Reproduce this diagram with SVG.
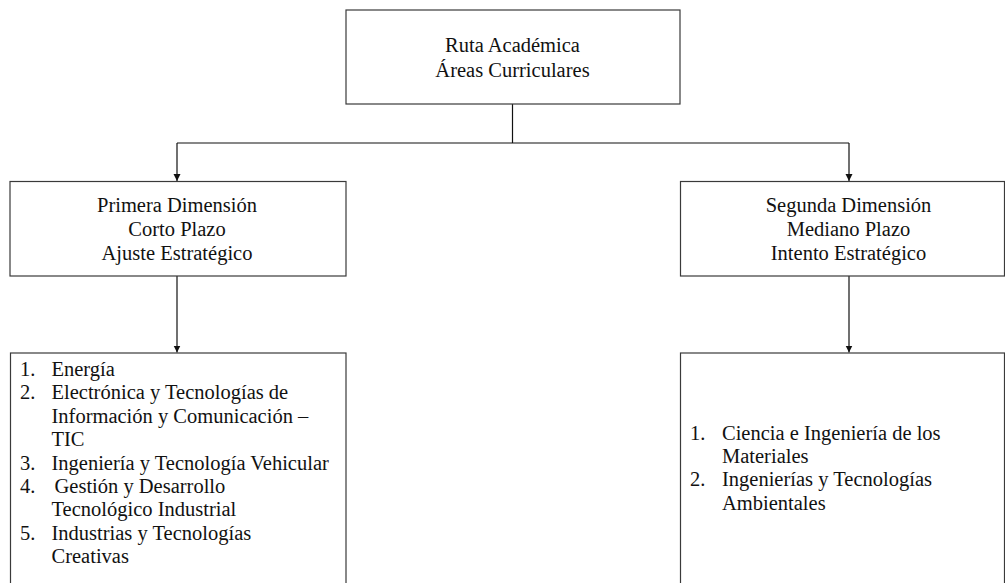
<svg xmlns="http://www.w3.org/2000/svg" width="1005" height="583" viewBox="0 0 1005 583">
<style>
.box{fill:#fff;stroke:#3a3a3a;stroke-width:1.2}
.t{font-family:"Liberation Serif","Times New Roman",serif;font-size:20.5px;fill:#111}
.c{text-anchor:middle}
.ln{fill:none;stroke:#111;stroke-width:1.2}
</style>
<defs>
<marker id="ah" markerWidth="8" markerHeight="8" refX="7" refY="4" orient="auto" markerUnits="userSpaceOnUse">
<path d="M0,0.5 L7,4 L0,7.5 Z" fill="#111"/>
</marker>
</defs>
<rect width="1005" height="583" fill="#fff"/>
<g id="connectors">
<path class="ln" d="M512.5,104 V143"/>
<path class="ln" d="M177,143 H849"/>
<path class="ln" d="M177,143 V181" marker-end="url(#ah)"/>
<path class="ln" d="M849,143 V181" marker-end="url(#ah)"/>
<path class="ln" d="M177,276 V352.5" marker-end="url(#ah)"/>
<path class="ln" d="M849,276 V352.5" marker-end="url(#ah)"/>
</g>
<g id="root">
<rect class="box" x="346" y="10" width="334" height="94"/>
<text class="t c" x="512.5" y="52">Ruta Académica</text>
<text class="t c" x="512.5" y="77">Áreas Curriculares</text>
</g>
<g id="dim1">
<rect class="box" x="10" y="181.5" width="336" height="94.5"/>
<text class="t c" x="177" y="212">Primera Dimensión</text>
<text class="t c" x="177" y="236">Corto Plazo</text>
<text class="t c" x="177" y="260">Ajuste Estratégico</text>
</g>
<g id="dim2">
<rect class="box" x="680.5" y="181.5" width="324" height="94.5"/>
<text class="t c" x="848.5" y="212">Segunda Dimensión</text>
<text class="t c" x="848.5" y="236">Mediano Plazo</text>
<text class="t c" x="848.5" y="260">Intento Estratégico</text>
</g>
<g id="list1">
<rect class="box" x="10.5" y="353" width="335.5" height="240"/>
<text class="t" x="20" y="376">1.</text><text class="t" x="51.5" y="376">Energía</text>
<text class="t" x="20" y="398.5">2.</text><text class="t" x="51.5" y="398.5">Electrónica y Tecnologías de</text>
<text class="t" x="51.5" y="422.5">Información y Comunicación –</text>
<text class="t" x="51.5" y="446">TIC</text>
<text class="t" x="20" y="469.5">3.</text><text class="t" x="51.5" y="469.5">Ingeniería y Tecnología Vehicular</text>
<text class="t" x="20" y="493">4.</text><text class="t" x="54.5" y="493">Gestión y Desarrollo</text>
<text class="t" x="51.5" y="516">Tecnológico Industrial</text>
<text class="t" x="20" y="539.5">5.</text><text class="t" x="51.5" y="539.5">Industrias y Tecnologías</text>
<text class="t" x="51.5" y="563">Creativas</text>
</g>
<g id="list2">
<rect class="box" x="680.5" y="353" width="324" height="240"/>
<text class="t" x="690" y="439.5">1.</text><text class="t" x="722" y="439.5">Ciencia e Ingeniería de los</text>
<text class="t" x="722" y="463">Materiales</text>
<text class="t" x="690" y="486">2.</text><text class="t" x="722" y="486">Ingenierías y Tecnologías</text>
<text class="t" x="722" y="509.5">Ambientales</text>
</g>
</svg>
